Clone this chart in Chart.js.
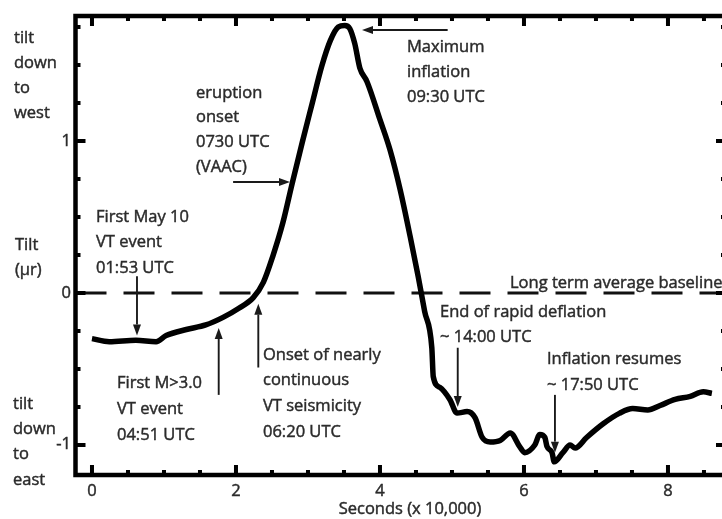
<!DOCTYPE html>
<html>
<head>
<meta charset="utf-8">
<title>Tilt record</title>
<script src="https://cdn.jsdelivr.net/npm/chart.js@4/dist/chart.umd.min.js"></script>
<style>
  html, body { margin: 0; padding: 0; background: #fff; overflow: hidden; }
  #wrap { position: relative; width: 740px; height: 519px; }
</style>
</head>
<body>
<div id="wrap"><canvas id="tiltChart"></canvas></div>
<script>
// Time in seconds (x 10,000) and tilt in microradians
const seconds = [0, 0.24, 0.61, 0.89, 1.03, 1.31, 1.58, 1.82, 2.04, 2.24, 2.38, 2.51, 2.65, 2.78, 2.92,
    3.06, 3.19, 3.31, 3.42, 3.51, 3.58, 3.65, 3.72, 3.82, 4.0, 4.14, 4.28, 4.42, 4.53, 4.62, 4.72,
    4.74, 4.83, 4.97, 5.07, 5.21, 5.32, 5.42, 5.53, 5.67, 5.81, 5.94, 6.01, 6.15, 6.22, 6.29, 6.32,
    6.39, 6.42, 6.54, 6.64, 6.71, 6.87, 7.10, 7.33, 7.51, 7.72, 7.89, 8.10, 8.31, 8.49, 8.61];
const tilt = [-0.30, -0.32, -0.31, -0.32, -0.28, -0.24, -0.21, -0.16, -0.10, -0.03, 0.07, 0.24, 0.46, 0.72, 0.99,
    1.25, 1.49, 1.66, 1.75, 1.76, 1.74, 1.64, 1.48, 1.39, 1.14, 0.94, 0.68, 0.37, 0.11, -0.12, -0.36,
    -0.55, -0.62, -0.70, -0.79, -0.78, -0.82, -0.95, -0.98, -0.97, -0.92, -1.01, -1.05, -1.00, -0.93, -0.95, -1.01,
    -1.05, -1.11, -1.05, -1.00, -1.02, -0.95, -0.86, -0.79, -0.76, -0.77, -0.74, -0.70, -0.68, -0.65, -0.66];

// Tick labels
const xTicks = [0, 2, 4, 6, 8];
const yTicks = [-1, 0, 1];

// Axis ranges
const xMin = -0.229, xMax = 8.806;
const yMin = -1.197, yMax = 1.822;

// Long term average baseline
const baseX = [xMin, xMax];
const baseY = [0, 0];

// Arrows in data units: [x0, y0, x1 (tip), y1 (tip)]
const arrows = [
    [0.625, 0.11, 0.625, -0.28],
    [1.76, -0.67, 1.76, -0.23],
    [2.31, -0.49, 2.31, -0.07],
    [1.96, 0.73, 2.75, 0.73],
    [4.94, 1.73, 3.75, 1.73],
    [5.08, -0.36, 5.08, -0.75],
    [6.43, -0.67, 6.43, -1.05]
];

// Text blocks: left x, first line centre y (pixels), line gap
const notes = [
    { x: 14, y: 38, gap: 25.2, lines: ['tilt', 'down', 'to', 'west'] },
    { x: 15, y: 245, gap: 25.5, lines: ['Tilt', '(\u03bcr)'] },
    { x: 13, y: 404, gap: 25.3, lines: ['tilt', 'down', 'to', 'east'] },
    { x: 196, y: 93, gap: 24.7, lines: ['eruption', 'onset', '0730 UTC', '(VAAC)'] },
    { x: 407, y: 47, gap: 25, lines: ['Maximum', 'inflation', '09:30 UTC'] },
    { x: 96, y: 217, gap: 25.5, lines: ['First May 10', 'VT event', '01:53 UTC'] },
    { x: 117, y: 383, gap: 26, lines: ['First M>3.0', 'VT event', '04:51 UTC'] },
    { x: 263, y: 355, gap: 25.7, lines: ['Onset of nearly', 'continuous', 'VT seismicity', '06:20 UTC'] },
    { x: 440, y: 312, gap: 25, lines: ['End of rapid deflation', '~ 14:00 UTC'] },
    { x: 547, y: 359, gap: 26, lines: ['Inflation resumes', '~ 17:50 UTC'] },
    { x: 510, y: 283, gap: 25, lines: ['Long term average baseline'] }
];

const FONT = '16.5px "Open Sans", sans-serif';
const TEXT = '#2b2b2b';

// write a string slightly heavier, like the scanned lettering
function label(ctx, s, x, y) {
    ctx.fillText(s, x, y);
    ctx.strokeText(s, x, y);
}

// Frame, inside ticks, labels and annotations
const figurePlugin = {
    id: 'figure',
    afterDatasetsDraw(chart) {
        const ctx = chart.ctx;
        const a = chart.chartArea;
        const xs = chart.scales.x;
        const ys = chart.scales.y;
        ctx.save();
        ctx.strokeStyle = '#000';
        ctx.fillStyle = '#000';

        // frame
        ctx.lineWidth = 4.5;
        ctx.strokeRect(a.left, a.top, a.right - a.left, a.bottom - a.top);

        // x ticks, top and bottom
        ctx.lineWidth = 4;
        for (let v = 0; v <= xMax; v += 0.5) {
            const px = xs.getPixelForValue(v);
            const len = xTicks.includes(v) ? 10 : 5;
            ctx.beginPath();
            ctx.moveTo(px, a.bottom);
            ctx.lineTo(px, a.bottom - len);
            ctx.moveTo(px, a.top);
            ctx.lineTo(px, a.top + len);
            ctx.stroke();
        }
        // y ticks, left and right
        for (let v = -1; v <= yMax; v += 0.25) {
            const py = ys.getPixelForValue(v);
            const len = yTicks.includes(v) ? 10 : 5;
            ctx.beginPath();
            ctx.moveTo(a.left, py);
            ctx.lineTo(a.left + len, py);
            ctx.moveTo(a.right, py);
            ctx.lineTo(a.right - len, py);
            ctx.stroke();
        }

        // arrows
        ctx.strokeStyle = '#1a1a1a';
        ctx.fillStyle = '#1a1a1a';
        ctx.lineWidth = 1.9;
        arrows.forEach(([x0, y0, x1, y1]) => {
            const p0x = xs.getPixelForValue(x0), p0y = ys.getPixelForValue(y0);
            const p1x = xs.getPixelForValue(x1), p1y = ys.getPixelForValue(y1);
            const ang = Math.atan2(p1y - p0y, p1x - p0x);
            const head = 11, half = 4;
            const bx = p1x - head * Math.cos(ang), by = p1y - head * Math.sin(ang);
            ctx.beginPath();
            ctx.moveTo(p0x, p0y);
            ctx.lineTo(bx, by);
            ctx.stroke();
            ctx.beginPath();
            ctx.moveTo(p1x, p1y);
            ctx.lineTo(bx + half * Math.sin(ang), by - half * Math.cos(ang));
            ctx.lineTo(bx - half * Math.sin(ang), by + half * Math.cos(ang));
            ctx.closePath();
            ctx.fill();
        });

        // tick labels
        ctx.font = FONT;
        ctx.fillStyle = TEXT;
        ctx.strokeStyle = TEXT;
        ctx.lineWidth = 0.45;
        ctx.textBaseline = 'middle';
        ctx.textAlign = 'center';
        xTicks.forEach(v => label(ctx, String(v), xs.getPixelForValue(v), 491));
        ctx.textAlign = 'right';
        yTicks.forEach(v => label(ctx, String(v), 71, ys.getPixelForValue(v) + (v < 0 ? -1 : 0)));

        // axis title
        ctx.textAlign = 'center';
        label(ctx, 'Seconds (x 10,000)', 410, 509);

        // text blocks
        ctx.textAlign = 'left';
        notes.forEach(n => {
            n.lines.forEach((line, i) => label(ctx, line, n.x, n.y + i * n.gap));
        });
        ctx.restore();
    }
};

const ctx = document.getElementById('tiltChart').getContext('2d');
new Chart(ctx, {
    type: 'line',
    data: {
        datasets: [{
            label: 'Tilt',
            data: seconds.map((s, i) => ({ x: s, y: tilt[i] })),
            borderColor: '#000',
            borderWidth: 5.5,
            pointRadius: 0,
            cubicInterpolationMode: 'monotone',
            fill: false
        }, {
            label: 'Baseline',
            data: baseX.map((s, i) => ({ x: s, y: baseY[i] })),
            borderColor: '#111',
            borderWidth: 3,
            borderDash: [31, 17],
            pointRadius: 0,
            fill: false
        }]
    },
    options: {
        responsive: true,
        maintainAspectRatio: false,
        animation: false,
        layout: {
            padding: { left: 75.5, top: 16, right: 14, bottom: 44 }
        },
        plugins: {
            legend: { display: false },
            title: { display: false },
            tooltip: { enabled: false }
        },
        scales: {
            x: { type: 'linear', min: xMin, max: xMax, display: false },
            y: { type: 'linear', min: yMin, max: yMax, display: false }
        }
    },
    plugins: [figurePlugin]
});
</script>
</body>
</html>
